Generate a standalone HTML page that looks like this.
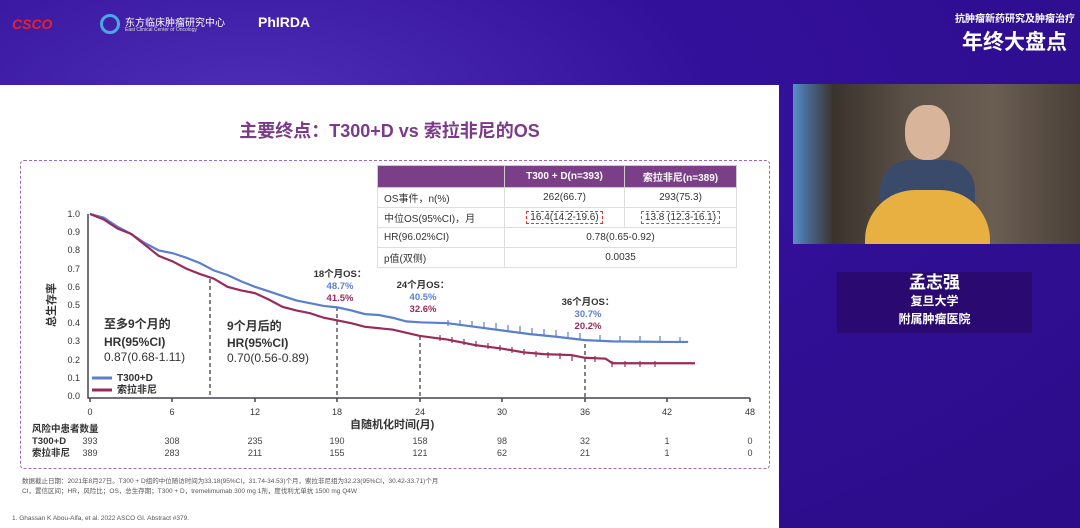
<!DOCTYPE html>
<html><head><meta charset="utf-8"><style>
body{margin:0;width:1080px;height:528px;overflow:hidden;background:#2a0a80;font-family:"Liberation Sans","Noto Sans CJK SC",sans-serif;position:relative}
.a{position:absolute}
td{vertical-align:middle}
</style></head><body>
<div class="a" style="left:0;top:0;width:1080px;height:528px;background:radial-gradient(ellipse at 250px 120px,#5030b8 0,#33109a 40%,#2c0c88 100%)"></div>
<div class="a" style="left:12px;top:16px;color:#e8202a;font-weight:bold;font-style:italic;font-size:14px">CSCO</div>
<div class="a" style="left:100px;top:14px;width:20px;height:20px;border-radius:50%;border:3px solid #4aa8e0;box-sizing:border-box"></div>
<div class="a" style="left:125px;top:14px;color:#fff;font-size:10px">东方临床肿瘤研究中心</div>
<div class="a" style="left:125px;top:27px;color:#ddd;font-size:5px">East Clinical Center of Oncology</div>
<div class="a" style="left:258px;top:14px;color:#fff;font-size:14px;font-weight:bold">PhIRDA</div>
<div class="a" style="left:955px;top:10px;color:#fff;font-size:10px;font-weight:bold">抗肿瘤新药研究及肿瘤治疗</div>
<div class="a" style="left:962px;top:26px;color:#fff;font-size:21px;font-weight:bold">年终大盘点</div>
<div class="a" style="left:0;top:85px;width:779px;height:443px;background:#fff"></div>
<div class="a" style="left:793px;top:84px;width:287px;height:160px;background:linear-gradient(90deg,#5a8fc8 0,#4a6e9a 12px,#3a332c 14%,#5b5047 40%,#6a5e52 70%,#4a4038 100%)"></div>
<div class="a" style="left:905px;top:105px;width:45px;height:55px;border-radius:45%;background:#d8b49a"></div>
<div class="a" style="left:880px;top:160px;width:95px;height:80px;border-radius:30px 30px 0 0;background:#3a4a6a"></div>
<div class="a" style="left:865px;top:190px;width:125px;height:54px;border-radius:50px 50px 0 0;background:#e8b040"></div>
<div class="a" style="left:837px;top:272px;width:195px;height:61px;background:#2a0a70"></div>
<div class="a" style="left:837px;top:274px;width:195px;text-align:center;color:#fff;font-weight:bold;line-height:18px"><div style="font-size:17px">孟志强</div><div style="font-size:12px">复旦大学</div><div style="font-size:12px">附属肿瘤医院</div></div>
<div class="a" style="left:0;top:117px;width:779px;text-align:center;color:#7b3a8a;font-size:18px;font-weight:bold">主要终点：T300+D vs 索拉非尼的OS</div>
<div class="a" style="left:20px;top:160px;width:748px;height:307px;border:1.5px dashed #9a6ac0;border-radius:4px"></div>
<table class="a" style="left:377px;top:165px;border-collapse:collapse;font-size:10px;color:#333;width:360px">
<tr style="background:#7b3f88;color:#fff;font-weight:bold;height:22px"><td style="width:124px;border:1px solid #ccc"></td><td style="width:117px;text-align:center;border:1px solid #ccc">T300 + D(n=393)</td><td style="text-align:center;border:1px solid #ccc">索拉非尼(n=389)</td></tr>
<tr style="height:20px"><td style="border:1px solid #ddd;padding-left:6px">OS事件，n(%)</td><td style="text-align:center;border:1px solid #ddd">262(66.7)</td><td style="text-align:center;border:1px solid #ddd">293(75.3)</td></tr>
<tr style="height:20px"><td style="border:1px solid #ddd;padding-left:6px">中位OS(95%CI)，月</td><td style="text-align:center;border:1px solid #ddd"><span style="border:1px dashed #e03030;padding:0 3px">16.4(14.2-19.6)</span></td><td style="text-align:center;border:1px solid #ddd"><span style="border:1px dashed #3080d0;padding:0 3px">13.8 (12.3-16.1)</span></td></tr>
<tr style="height:20px"><td style="border:1px solid #ddd;padding-left:6px">HR(96.02%CI)</td><td colspan="2" style="text-align:center;border:1px solid #ddd">0.78(0.65-0.92)</td></tr>
<tr style="height:20px"><td style="border:1px solid #ddd;padding-left:6px">p值(双侧)</td><td colspan="2" style="text-align:center;border:1px solid #ddd">0.0035</td></tr>
</table>
<svg class="a" style="left:0;top:0" width="780" height="528" font-family="Liberation Sans, Noto Sans CJK SC, sans-serif">
<g stroke="#445" stroke-width="1.5" fill="none"><path d="M88 214V398H750M90 398v4M172 398v4M255 398v4M337 398v4M420 398v4M502 398v4M585 398v4M667 398v4M750 398v4"/></g>
<g font-size="9" fill="#333" text-anchor="end"><text x="80" y="217">1.0</text><text x="80" y="235">0.9</text><text x="80" y="253">0.8</text><text x="80" y="272">0.7</text><text x="80" y="290">0.6</text><text x="80" y="308">0.5</text><text x="80" y="326">0.4</text><text x="80" y="344">0.3</text><text x="80" y="363">0.2</text><text x="80" y="381">0.1</text><text x="80" y="399">0.0</text></g>
<g font-size="9" fill="#333" text-anchor="middle"><text x="90" y="415">0</text><text x="172" y="415">6</text><text x="255" y="415">12</text><text x="337" y="415">18</text><text x="420" y="415">24</text><text x="502" y="415">30</text><text x="585" y="415">36</text><text x="667" y="415">42</text><text x="750" y="415">48</text></g>
<text x="0" y="0" transform="translate(55,305) rotate(-90)" font-size="11" font-weight="bold" fill="#333" text-anchor="middle">总生存率</text>
<g stroke="#333" stroke-dasharray="4 3" stroke-width="1.2"><path d="M210 279V398M337 307V398M420 336V398M585 344V398"/></g>
<g transform="translate(90,396) scale(13.75,-182)" fill="none" stroke-width="2.2">
<polyline vector-effect="non-scaling-stroke" stroke="#5b7fcf" points="0,1 1,0.98 2,0.93 3,0.89 4,0.84 5,0.8 6,0.785 7,0.76 8,0.73 9,0.69 10,0.665 11,0.63 12,0.6 13,0.575 14,0.55 15,0.525 16,0.51 17,0.495 18,0.487 19,0.47 20,0.45 21,0.445 22,0.43 23,0.41 24,0.405 26,0.4 28,0.38 30,0.36 32,0.34 34,0.325 36,0.307 38,0.3 42,0.297 43.5,0.297"/>
<polyline vector-effect="non-scaling-stroke" stroke="#9a2a5a" points="0,1 1,0.97 2,0.92 3,0.89 4,0.83 5,0.77 6,0.74 7,0.7 8,0.67 9,0.645 10,0.6 11,0.58 12,0.565 13,0.53 14,0.49 15,0.47 16,0.455 17,0.43 18,0.415 19,0.4 20,0.38 22,0.365 24,0.33 26,0.31 28,0.28 30,0.26 31.5,0.24 33,0.23 35,0.225 36,0.21 37.5,0.205 38,0.18 44,0.18"/>
</g>
<g stroke="#5b7fcf" stroke-width="1.2"><path d="M448 320v6M460 320v6M472 321v6M484 322v6M496 323v6M508 325v6M520 326v6M532 328v6M544 329v6M556 330v6M568 332v6M580 333v6M600 335v6M620 336v6M640 336v6M660 336v6M680 337v6"/></g>
<g stroke="#9a2a5a" stroke-width="1.2"><path d="M440 335v6M452 337v6M464 339v6M476 341v6M488 343v6M500 345v6M512 347v6M524 349v6M536 351v6M548 352v6M560 353v6M572 355v6M595 356v6M612 361v6M625 361v6M640 361v6M655 361v6"/></g>
<path d="M92 378h20" stroke="#5b7fcf" stroke-width="3"/><path d="M92 390h20" stroke="#9a2a5a" stroke-width="3"/>
<text x="117" y="381" font-size="10" font-weight="bold" fill="#333">T300+D</text><text x="117" y="393" font-size="10" font-weight="bold" fill="#333">索拉非尼</text>
<g font-size="12" fill="#333"><text x="104" y="328" font-weight="bold">至多9个月的</text><text x="104" y="346" font-weight="bold">HR(95%CI)</text><text x="104" y="361">0.87(0.68-1.11)</text>
<text x="227" y="330" font-weight="bold">9个月后的</text><text x="227" y="347" font-weight="bold">HR(95%CI)</text><text x="227" y="362">0.70(0.56-0.89)</text></g>
<g font-size="9.5" font-weight="bold" text-anchor="middle"><text x="340" y="277" fill="#333">18个月OS：</text><text x="340" y="289" fill="#5b7fcf">48.7%</text><text x="340" y="301" fill="#9a2a5a">41.5%</text>
<text x="423" y="288" fill="#333">24个月OS：</text><text x="423" y="300" fill="#5b7fcf">40.5%</text><text x="423" y="312" fill="#9a2a5a">32.6%</text>
<text x="588" y="305" fill="#333">36个月OS：</text><text x="588" y="317" fill="#5b7fcf">30.7%</text><text x="588" y="329" fill="#9a2a5a">20.2%</text></g>
<text x="350" y="428" font-size="11" font-weight="bold" fill="#333">自随机化时间(月)</text>
<g font-size="9.5" font-weight="bold" fill="#333"><text x="32" y="432">风险中患者数量</text><text x="32" y="444">T300+D</text><text x="32" y="456">索拉非尼</text></g>
<g font-size="9" fill="#444" text-anchor="middle"><text x="90" y="444">393</text><text x="172" y="444">308</text><text x="255" y="444">235</text><text x="337" y="444">190</text><text x="420" y="444">158</text><text x="502" y="444">98</text><text x="585" y="444">32</text><text x="667" y="444">1</text><text x="750" y="444">0</text>
<text x="90" y="456">389</text><text x="172" y="456">283</text><text x="255" y="456">211</text><text x="337" y="456">155</text><text x="420" y="456">121</text><text x="502" y="456">62</text><text x="585" y="456">21</text><text x="667" y="456">1</text><text x="750" y="456">0</text></g>
<g font-size="6.5" fill="#555"><text x="22" y="483">数据截止日期：2021年8月27日。T300 + D组的中位随访时间为33.18(95%CI，31.74-34.53)个月，索拉非尼组为32.23(95%CI，30.42-33.71)个月</text><text x="22" y="493">CI，置信区间；HR，风险比；OS，总生存期；T300 + D，tremelimumab 300 mg 1剂，度伐利尤单抗 1500 mg Q4W</text><text x="12" y="520">1. Ghassan K Abou-Alfa, et al. 2022 ASCO GI. Abstract #379.</text></g>
</svg>
</body></html>
